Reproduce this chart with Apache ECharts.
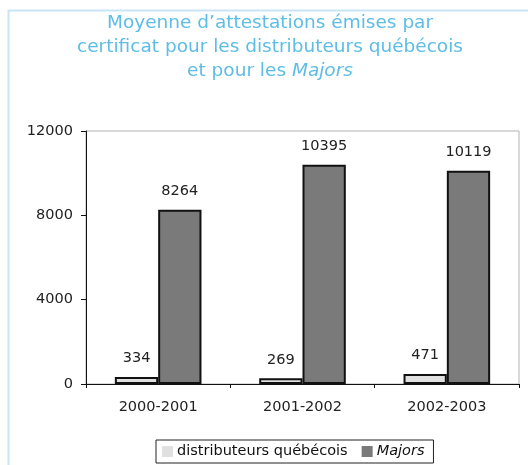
<!DOCTYPE html>
<html>
<head>
<meta charset="utf-8">
<script src="https://cdn.jsdelivr.net/npm/echarts@6/dist/echarts.min.js"></script>
<style>
html, body { margin: 0; padding: 0; background: #fff; }
#chart { width: 528px; height: 465px; }
</style>
</head>
<body>
<div id="chart"></div>
<script>
const periods = ['2000-2001', '2001-2002', '2002-2003']
const seriesNames = ['distributeurs québécois', 'Majors']
const quebecValues = [334, 269, 471]
const majorsValues = [8264, 10395, 10119]
const yTicks = [0, 4000, 8000, 12000]

// the source picture is a bit wide, DejaVu gets closer to its text widths
const font = '"DejaVu Sans", "Liberation Sans", Arial, sans-serif'

const chart = echarts.init(document.getElementById('chart'), null, { renderer: 'canvas' })

const barStyle = (fill) => ({
    color: fill,
    borderColor: '#111',
    borderWidth: 2
})

const labelStyle = {
    show: true,
    position: 'top',
    distance: 11,
    fontFamily: font,
    fontSize: 14.5,
    color: '#222'
}

chart.setOption({
    animation: false,
    backgroundColor: '#fff',
    graphic: [
        {
            type: 'rect',
            shape: { x: 8.5, y: 10.5, width: 560, height: 500 },
            style: { fill: 'none', stroke: '#c9e5f3', lineWidth: 2 },
            silent: true
        }
    ],
    title: {
        text: 'Moyenne d\u2019attestations émises par\ncertificat pour les distributeurs québécois\net pour les {i|Majors}',
        left: 265,
        textAlign: 'center',
        top: 6,
        textStyle: {
            fontFamily: font,
            fontSize: 18.5,
            fontWeight: 'normal',
            color: '#5dbde6',
            lineHeight: 24,
            rich: {
                i: { fontFamily: font, fontSize: 18.5, fontStyle: 'italic', color: '#5dbde6', lineHeight: 24 }
            }
        }
    },
    legend: {
        data: seriesNames,
        left: 156,
        top: 440,
        itemWidth: 11,
        itemHeight: 11,
        itemGap: 14,
        padding: [4, 9, 4, 6],
        borderColor: '#222',
        borderWidth: 1,
        borderRadius: 0,
        icon: 'rect',
        formatter: (name) => (name === 'Majors' ? '{i|Majors}' : name),
        itemStyle: { borderWidth: 0 },
        textStyle: {
            fontFamily: font,
            fontSize: 14.5,
            color: '#111',
            padding: [0, 0, 0, -1],
            rich: {
                i: { fontFamily: font, fontSize: 14.5, fontStyle: 'italic', color: '#111' }
            }
        }
    },
    grid: {
        left: 86,
        right: 9,
        top: 131,
        bottom: 81,
        show: true,
        borderColor: '#b3b3b3',
        borderWidth: 1,
        backgroundColor: 'transparent'
    },
    xAxis: {
        type: 'category',
        data: periods,
        axisLine: { lineStyle: { color: '#111', width: 1 } },
        axisTick: { show: true, length: 4, lineStyle: { color: '#111' } },
        axisLabel: {
            fontFamily: font,
            fontSize: 14.5,
            color: '#222',
            margin: 16
        }
    },
    yAxis: {
        type: 'value',
        min: 0,
        max: 12000,
        interval: 4000,
        axisLine: { show: true, lineStyle: { color: '#111', width: 1 } },
        axisTick: { show: true, length: 5, lineStyle: { color: '#111' } },
        splitLine: { show: false },
        axisLabel: {
            fontFamily: font,
            fontSize: 14.5,
            color: '#222',
            margin: 13,
            formatter: (v) => (yTicks.includes(v) ? String(v) : '')
        }
    },
    series: [
        {
            name: seriesNames[0],
            type: 'bar',
            data: quebecValues,
            barGap: '0%',
            barCategoryGap: '40%',
            itemStyle: barStyle('#e0e0e0'),
            label: labelStyle
        },
        {
            name: seriesNames[1],
            type: 'bar',
            data: majorsValues,
            itemStyle: barStyle('#7a7a7a'),
            label: labelStyle
        }
    ]
})
</script>
</body>
</html>
